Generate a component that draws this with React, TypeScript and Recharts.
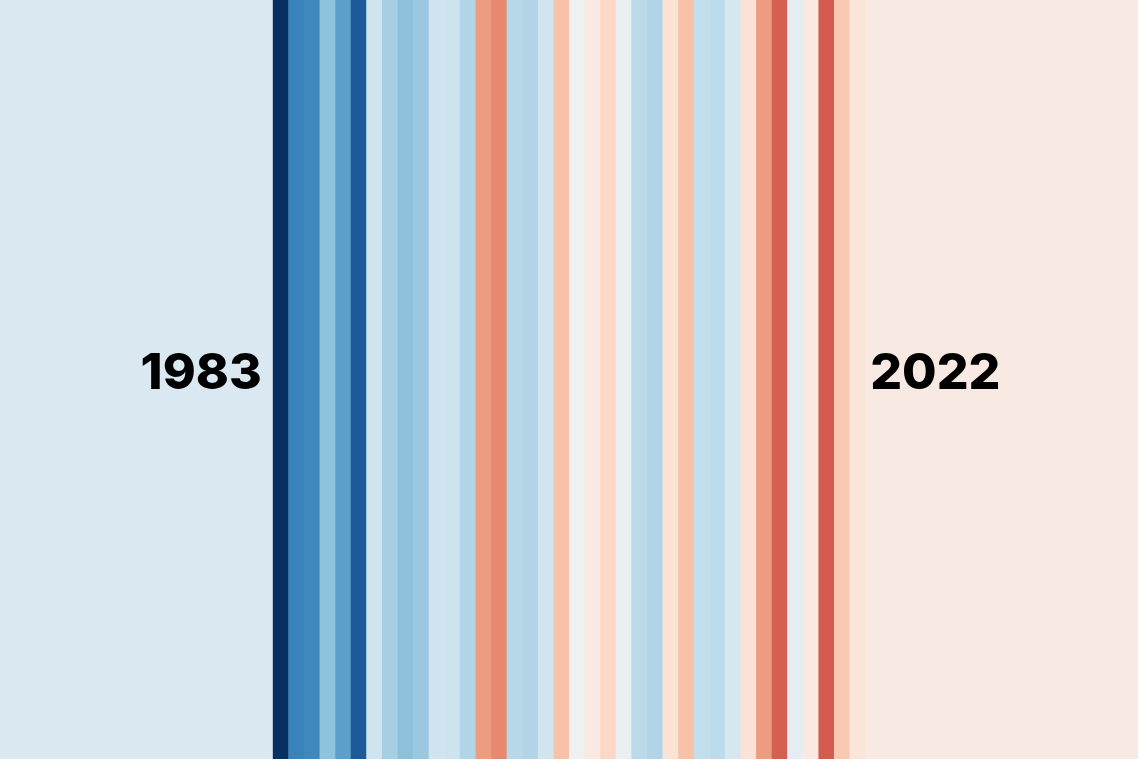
import { Bar, BarChart, Cell, ReferenceArea, XAxis, YAxis } from "recharts";

const years = [
  1983, 1984, 1985, 1986, 1987, 1988, 1989, 1990, 1991, 1992,
  1993, 1994, 1995, 1996, 1997, 1998, 1999, 2000, 2001, 2002,
  2003, 2004, 2005, 2006, 2007, 2008, 2009, 2010, 2011, 2012,
  2013, 2014, 2015, 2016, 2017, 2018, 2019, 2020, 2021, 2022,
];

const anomalies = [
  -0.15, -1.0, -0.67, -0.65, -0.4, -0.55, -0.84, -0.19, -0.33, -0.41,
  -0.37, -0.19, -0.2, -0.3, 0.42, 0.48, -0.28, -0.3, -0.18, 0.29,
  -0.02, 0.08, 0.2, -0.06, -0.27, -0.3, 0.14, 0.29, -0.24, -0.26,
  -0.16, 0.13, 0.42, 0.6, -0.1, 0.09, 0.61, 0.26, 0.12, 0.08,
];

const labelYears = ["1983", "2022"];

const xDomain: [number, number] = [1966, 2039];
const anomalyDomain: [number, number] = [-1, 1];

const data = years.map((year, i) => ({ year, anomaly: anomalies[i] }));

// RdBu, same stops and basis spline as d3-scale-chromatic
const rdBu = "67001fb2182bd6604df4a582fddbc7f7f7f7d1e5f092c5de4393c32166ac053061"
  .match(/.{6}/g)!
  .map((h) => [0, 2, 4].map((k) => parseInt(h.slice(k, k + 2), 16)));

function basis(t1: number, v0: number, v1: number, v2: number, v3: number) {
  const t2 = t1 * t1, t3 = t2 * t1;
  return ((1 - 3 * t1 + 3 * t2 - t3) * v0
    + (4 - 6 * t2 + 3 * t3) * v1
    + (1 + 3 * t1 + 3 * t2 - 3 * t3) * v2
    + t3 * v3) / 6;
}

function interpolateRdBu(t: number) {
  const n = rdBu.length - 1;
  t = Math.max(0, Math.min(1, t));
  const i = t >= 1 ? n - 1 : Math.floor(t * n);
  const rgb = [0, 1, 2].map((c) => {
    const v1 = rdBu[i][c];
    const v2 = rdBu[i + 1][c];
    const v0 = i > 0 ? rdBu[i - 1][c] : 2 * v1 - v2;
    const v3 = i < n - 1 ? rdBu[i + 2][c] : 2 * v2 - v1;
    return Math.round(Math.max(0, Math.min(255, basis((t - i / n) * n, v0, v1, v2, v3))));
  });
  return `rgb(${rgb.join(",")})`;
}

const stripeColor = (a: number) => {
  const [lo, hi] = anomalyDomain;
  return interpolateRdBu(1 - (a - lo) / (hi - lo));
};

const yearLabel = (text: string, side: "left" | "right") => (props: any) => {
  const vb = props.viewBox;
  const x = side === "left" ? vb.x + vb.width - 11 : vb.x + 5;
  return (
    <text
      x={x}
      y={vb.y + vb.height / 2 + 9}
      textAnchor={side === "left" ? "end" : "start"}
      fontFamily="Inter, Roboto, sans-serif"
      fontWeight={800}
      fontSize={50}
      fill="#000"
    >
      {text}
    </text>
  );
};

export default function App() {
  const first = data[0];
  const last = data[data.length - 1];
  // the first and last year are drawn as the wide side panels, not as stripes
  const stripeValue = (d: { year: number }) =>
    d.year === first.year || d.year === last.year ? null : 1;
  return (
    <div style={{ position: "absolute", left: 0, top: 0, width: 1140, height: 760, background: "#fff" }}>
      <BarChart
        width={1138}
        height={759}
        data={data}
        margin={{ top: 0, right: 0, bottom: 0, left: 0 }}
        barCategoryGap={0}
        barGap={0}
      >
        <XAxis dataKey="year" type="number" domain={xDomain} hide allowDataOverflow />
        <YAxis type="number" domain={[0, 1]} hide />
        <Bar dataKey={stripeValue} isAnimationActive={false}>
          {data.map((d) => (
            <Cell key={d.year} fill={stripeColor(d.anomaly)} />
          ))}
        </Bar>
        <ReferenceArea
          x1={xDomain[0]}
          x2={first.year + 0.5}
          fill={stripeColor(first.anomaly)}
          fillOpacity={1}
          stroke="none"
          label={yearLabel(labelYears[0], "left")}
        />
        <ReferenceArea
          x1={last.year - 0.5}
          x2={xDomain[1]}
          fill={stripeColor(last.anomaly)}
          fillOpacity={1}
          stroke="none"
          label={yearLabel(labelYears[1], "right")}
        />
      </BarChart>
    </div>
  );
}
